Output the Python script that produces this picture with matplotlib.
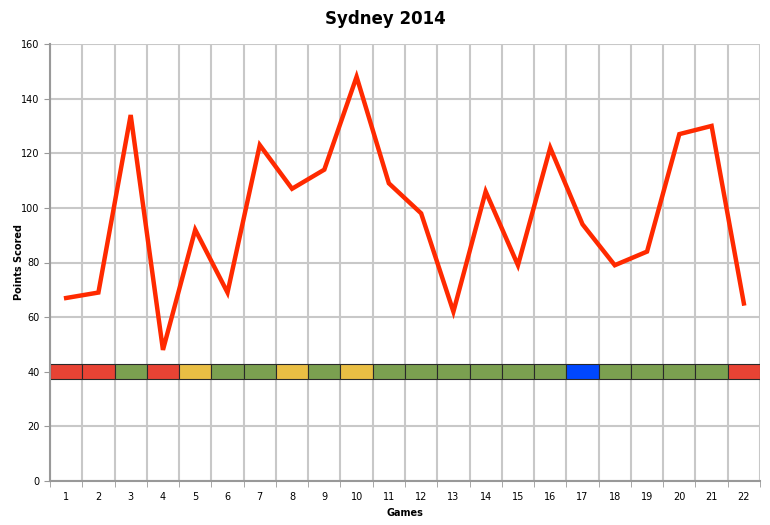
import matplotlib
matplotlib.use('Agg')
import matplotlib.pyplot as plt
import numpy as np

# Data
games = np.arange(1, 23)
points = [67, 69, 134, 48, 92, 69, 123, 107, 114, 148, 109,
          98, 62, 106, 79, 122, 94, 79, 84, 127, 130, 65]
# Result strip colour per game
results = ['L', 'L', 'W', 'L', 'D', 'W', 'W', 'D', 'W', 'D', 'W',
           'W', 'W', 'W', 'W', 'W', 'B', 'W', 'W', 'W', 'W', 'L']
result_colors = {'W': '#7BA050', 'L': '#E84334', 'D': '#E9BE44', 'B': '#0047FF'}
strip_bottom = 37.5
strip_height = 5.5

fig = plt.figure(figsize=(7.7, 5.25), dpi=100)
ax = fig.add_axes([50 / 770, 44 / 525, 710 / 770, 437 / 525])

# Coloured result strip
ax.bar(games, [strip_height] * len(games), width=1.0, bottom=strip_bottom,
       color=[result_colors[r] for r in results], edgecolor='#2a2a2a',
       linewidth=0.8, zorder=2)

# Points line
ax.plot(games, points, color='#FF2A00', linewidth=3.2, zorder=3,
        solid_joinstyle='miter')

ax.set_xlim(0.5, 22.5)
ax.set_ylim(0, 160)
ax.set_yticks(np.arange(0, 161, 20))
ax.set_xticks(games)
ax.set_xticklabels([str(g) for g in games], fontsize=7)
ax.set_xticks(np.arange(0.5, 23, 1), minor=True)
ax.tick_params(axis='x', which='major', length=0, pad=8)
ax.tick_params(axis='x', which='minor', length=4, color='#999999')
ax.tick_params(axis='y', labelsize=7, length=4, color='#999999')

ax.grid(True, axis='y', color='#C8C8C8', linewidth=1.5, zorder=0)
ax.grid(True, axis='x', which='minor', color='#C8C8C8', linewidth=1.5, zorder=0)
ax.set_axisbelow(True)
for s in ['top', 'right']:
    ax.spines[s].set_visible(False)
for s in ['left', 'bottom']:
    ax.spines[s].set_color('#999999')
    ax.spines[s].set_linewidth(1.5)

ax.set_xlabel('Games', fontsize=7, fontweight='bold', labelpad=4)
ax.set_ylabel('Points Scored', fontsize=7, fontweight='bold', labelpad=-2)
fig.suptitle('Sydney 2014', fontsize=12, fontweight='bold', y=0.98)

fig.savefig('out.png', dpi=100)
